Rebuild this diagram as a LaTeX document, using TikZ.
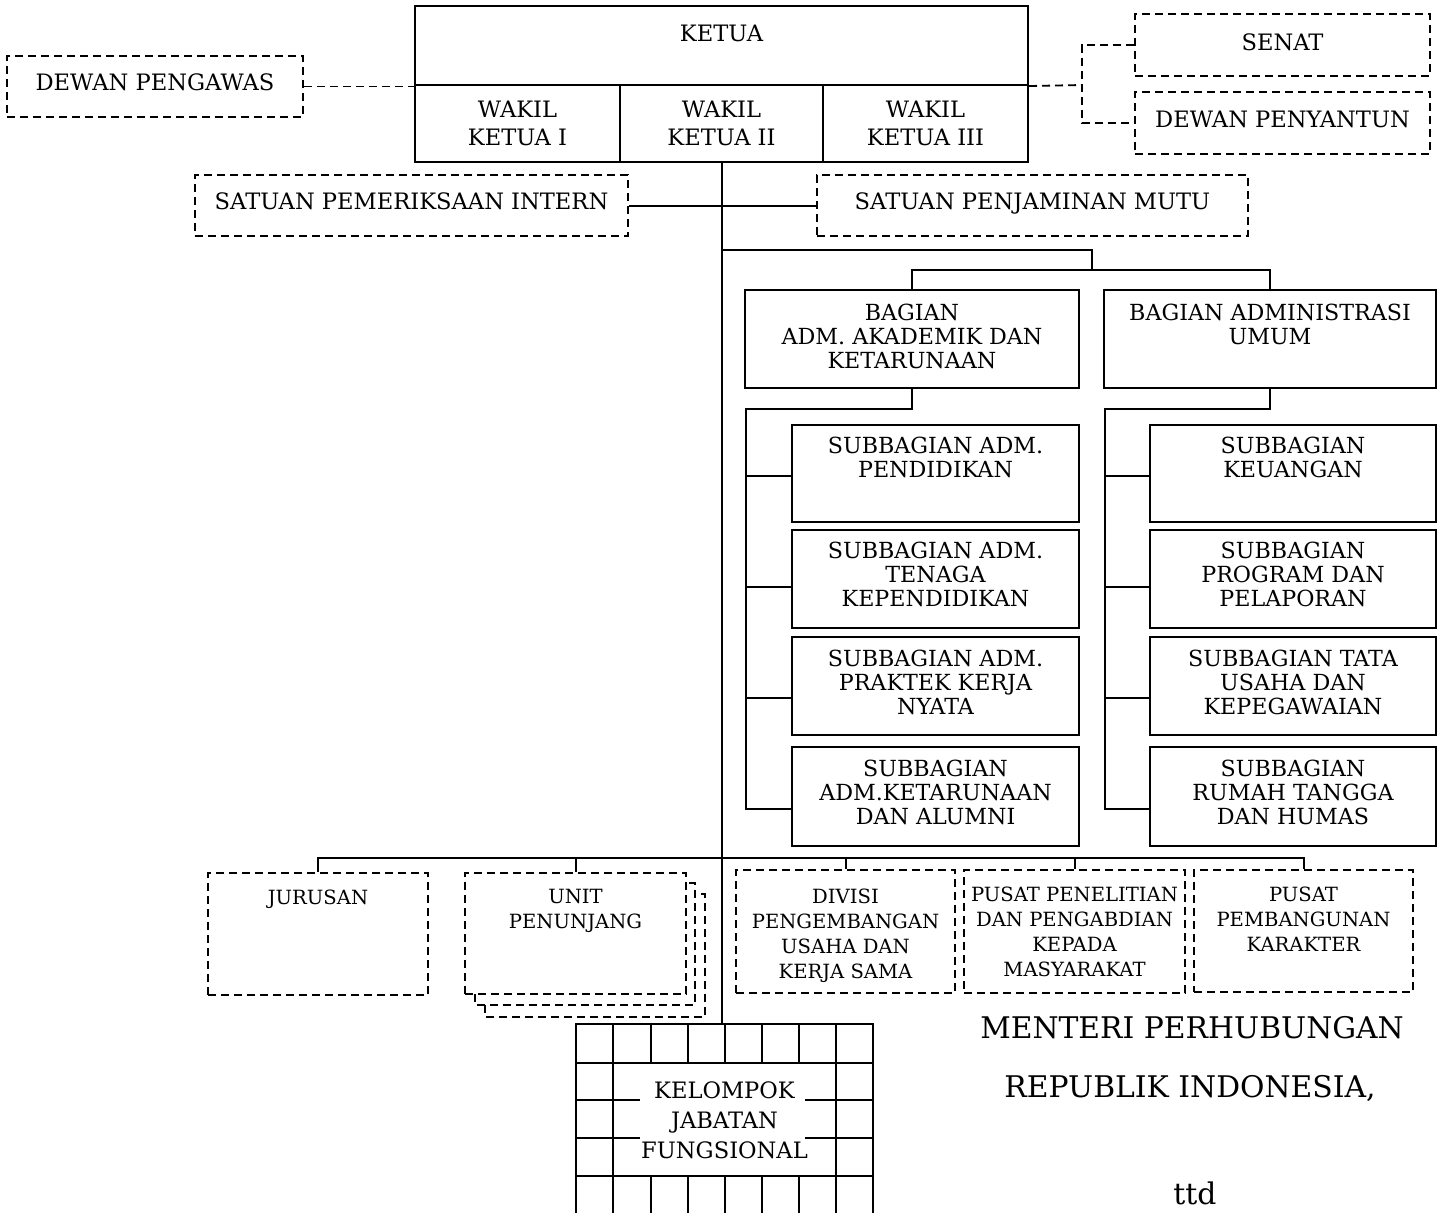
\documentclass[tikz,border=0pt]{standalone}
\usepackage{fontspec}
\setmainfont{DejaVu Serif}
\usetikzlibrary{fit,calc}
\newcommand\orgbox[7]{%
  \node[#1={#4 #5}] (#3) {};
  \node[#2] (#3t) at ($(#3.north)+(0,#6)$) {#7};
}
\begin{document}
\begin{tikzpicture}[x=0.5pt,y=-0.5pt,
  ln/.style={line width=1pt},
  dln/.style={line width=0.9pt, dash pattern=on 4pt off 2.5pt},
  sbox/.style={draw, line width=1pt, inner sep=0pt, fit={#1}},
  dbox/.style={draw, line width=0.85pt, dash pattern=on 4pt off 2.5pt, inner sep=0pt, fit={#1}},
  tA/.style={anchor=north, align=center, inner sep=0pt, font=\fontsize{11.3}{14}\selectfont},
  tB/.style={anchor=north, align=center, inner sep=0pt, font=\fontsize{11.1}{12}\selectfont},
  tC/.style={anchor=north, align=center, inner sep=0pt, font=\fontsize{9.8}{12.5}\selectfont},
  tD/.style={anchor=center, inner sep=0pt, font=\fontsize{14.9}{16}\selectfont},
]
\clip (0,0) rectangle (1442,1212);
\fill[white] (0,0) rectangle (1442,1212);

% top block
\orgbox{sbox}{tA}{ketua}{(415,6)}{(1028,85)}{20}{KETUA}
\orgbox{sbox}{tA}{wk1}{(415,85)}{(620,162)}{17}{WAKIL\\KETUA I}
\orgbox{sbox}{tA}{wk2}{(620,85)}{(823,162)}{17}{WAKIL\\KETUA II}
\orgbox{sbox}{tA}{wk3}{(823,85)}{(1028,162)}{17}{WAKIL\\KETUA III}

\orgbox{dbox}{tA}{dpw}{(7,56)}{(303,117)}{18}{DEWAN PENGAWAS}
\orgbox{dbox}{tA}{senat}{(1135,14)}{(1430,76)}{20}{SENAT}
\orgbox{dbox}{tA}{dpy}{(1135,92)}{(1430,154)}{19}{DEWAN PENYANTUN}
\orgbox{dbox}{tA}{spi}{(195,175)}{(628,236)}{18}{SATUAN PEMERIKSAAN INTERN}
\orgbox{dbox}{tA}{spm}{(817,175)}{(1248,236)}{18}{SATUAN PENJAMINAN MUTU}

% bagian
\orgbox{sbox}{tB}{bak}{(745,290)}{(1079,388)}{15}{BAGIAN\\ADM. AKADEMIK DAN\\KETARUNAAN}
\orgbox{sbox}{tB}{bau}{(1104,290)}{(1436,388)}{15}{BAGIAN ADMINISTRASI\\UMUM}

\orgbox{sbox}{tB}{sa1}{(792,425)}{(1079,522)}{13}{SUBBAGIAN ADM.\\PENDIDIKAN}
\orgbox{sbox}{tB}{sa2}{(792,530)}{(1079,628)}{13}{SUBBAGIAN ADM.\\TENAGA\\KEPENDIDIKAN}
\orgbox{sbox}{tB}{sa3}{(792,637)}{(1079,735)}{14}{SUBBAGIAN ADM.\\PRAKTEK KERJA\\NYATA}
\orgbox{sbox}{tB}{sa4}{(792,747)}{(1079,846)}{14}{SUBBAGIAN\\ADM.KETARUNAAN\\DAN ALUMNI}

\orgbox{sbox}{tB}{sb1}{(1150,425)}{(1436,522)}{13}{SUBBAGIAN\\KEUANGAN}
\orgbox{sbox}{tB}{sb2}{(1150,530)}{(1436,628)}{13}{SUBBAGIAN\\PROGRAM DAN\\PELAPORAN}
\orgbox{sbox}{tB}{sb3}{(1150,637)}{(1436,735)}{14}{SUBBAGIAN TATA\\USAHA DAN\\KEPEGAWAIAN}
\orgbox{sbox}{tB}{sb4}{(1150,747)}{(1436,846)}{14}{SUBBAGIAN\\RUMAH TANGGA\\DAN HUMAS}

% bottom row
\orgbox{dbox}{tC}{jur}{(208,873)}{(428,995)}{17}{JURUSAN}
\draw[dln] (475,994) -- (475,1005) -- (695,1005) -- (695,883) -- (686,883);
\draw[dln] (485,1005) -- (485,1017) -- (705,1017) -- (705,894) -- (695,894);
\orgbox{dbox}{tC}{unit}{(465,873)}{(686,994)}{17}{UNIT\\PENUNJANG}
\orgbox{dbox}{tC}{div}{(736,870)}{(955,993)}{19}{DIVISI\\PENGEMBANGAN\\USAHA DAN\\KERJA SAMA}
\orgbox{dbox}{tC}{ppm}{(964,870)}{(1185,993)}{17}{PUSAT PENELITIAN\\DAN PENGABDIAN\\KEPADA\\MASYARAKAT}
\orgbox{dbox}{tC}{ppk}{(1194,870)}{(1413,992)}{17}{PUSAT\\PEMBANGUNAN\\KARAKTER}

% kelompok jabatan fungsional grid
\node[sbox={(576,1024) (873,1214)}] (kjf) {};
\begin{scope}[ln]
  \draw (613,1024) -- (613,1214);
  \draw (836,1024) -- (836,1214);
  \draw (576,1063) -- (873,1063);
  \draw (576,1176) -- (873,1176);
  \foreach \x in {651,688,725,762,799} {
    \draw (\x,1024) -- (\x,1063);
    \draw (\x,1176) -- (\x,1214);
  }
  \foreach \y in {1100,1138} {
    \draw (576,\y) -- (640,\y);
    \draw (805,\y) -- (873,\y);
  }
\end{scope}
\node[tA, anchor=center, font=\fontsize{11.3}{15}\selectfont] (kjft) at (724.5,1120) {KELOMPOK\\JABATAN\\FUNGSIONAL};

% coordinates for connectors
\coordinate (sj) at (1082,85);
\coordinate (b1) at (721.5,250);
\coordinate (b2) at (1092,270);
\coordinate (akc) at (746,409);
\coordinate (auc) at (1105,409);
\coordinate (c1) at (721.5,858);

% connectors
\draw[dln] (dpw.east) -- (dpw.east -| ketua.west);
\draw[dln] (ketua.south east) -- (sj);
\draw[dln] (senat.west) -| (sj) |- (dpy.west);
\draw[ln] (wk2.south) -- (wk2.south |- kjf.north);
\draw[ln] (spi.east) -- (spm.west);
\draw[ln] (b1) -| (b2);
\draw[ln] (bak.north) |- (b2) -| (bau.north);
\draw[ln] (bak.south) |- (akc) |- ([yshift=-6pt]sa4.west);
\draw[ln] ([yshift=-1pt]sa1.west) -- ([yshift=-1pt]sa1.west -| akc);
\draw[ln] ([yshift=-4pt]sa2.west) -- ([yshift=-4pt]sa2.west -| akc);
\draw[ln] ([yshift=-6pt]sa3.west) -- ([yshift=-6pt]sa3.west -| akc);
\draw[ln] (bau.south) |- (auc) |- ([yshift=-6pt]sb4.west);
\draw[ln] ([yshift=-1pt]sb1.west) -- ([yshift=-1pt]sb1.west -| auc);
\draw[ln] ([yshift=-4pt]sb2.west) -- ([yshift=-4pt]sb2.west -| auc);
\draw[ln] ([yshift=-6pt]sb3.west) -- ([yshift=-6pt]sb3.west -| auc);
\draw[ln] (jur.north) |- (c1) -| (ppk.north);
\draw[ln] (unit.north) -- (unit.north |- c1);
\draw[ln] (div.north) -- (div.north |- c1);
\draw[ln] (ppm.north) -- (ppm.north |- c1);

% signature
\node[tD] (sig1) at (1192,1028) {MENTERI PERHUBUNGAN};
\node[tD] (sig2) at (1190,1088) {REPUBLIK INDONESIA,};
\node[tD] (sig3) at (1195,1193) {ttd};
\end{tikzpicture}
\end{document}
